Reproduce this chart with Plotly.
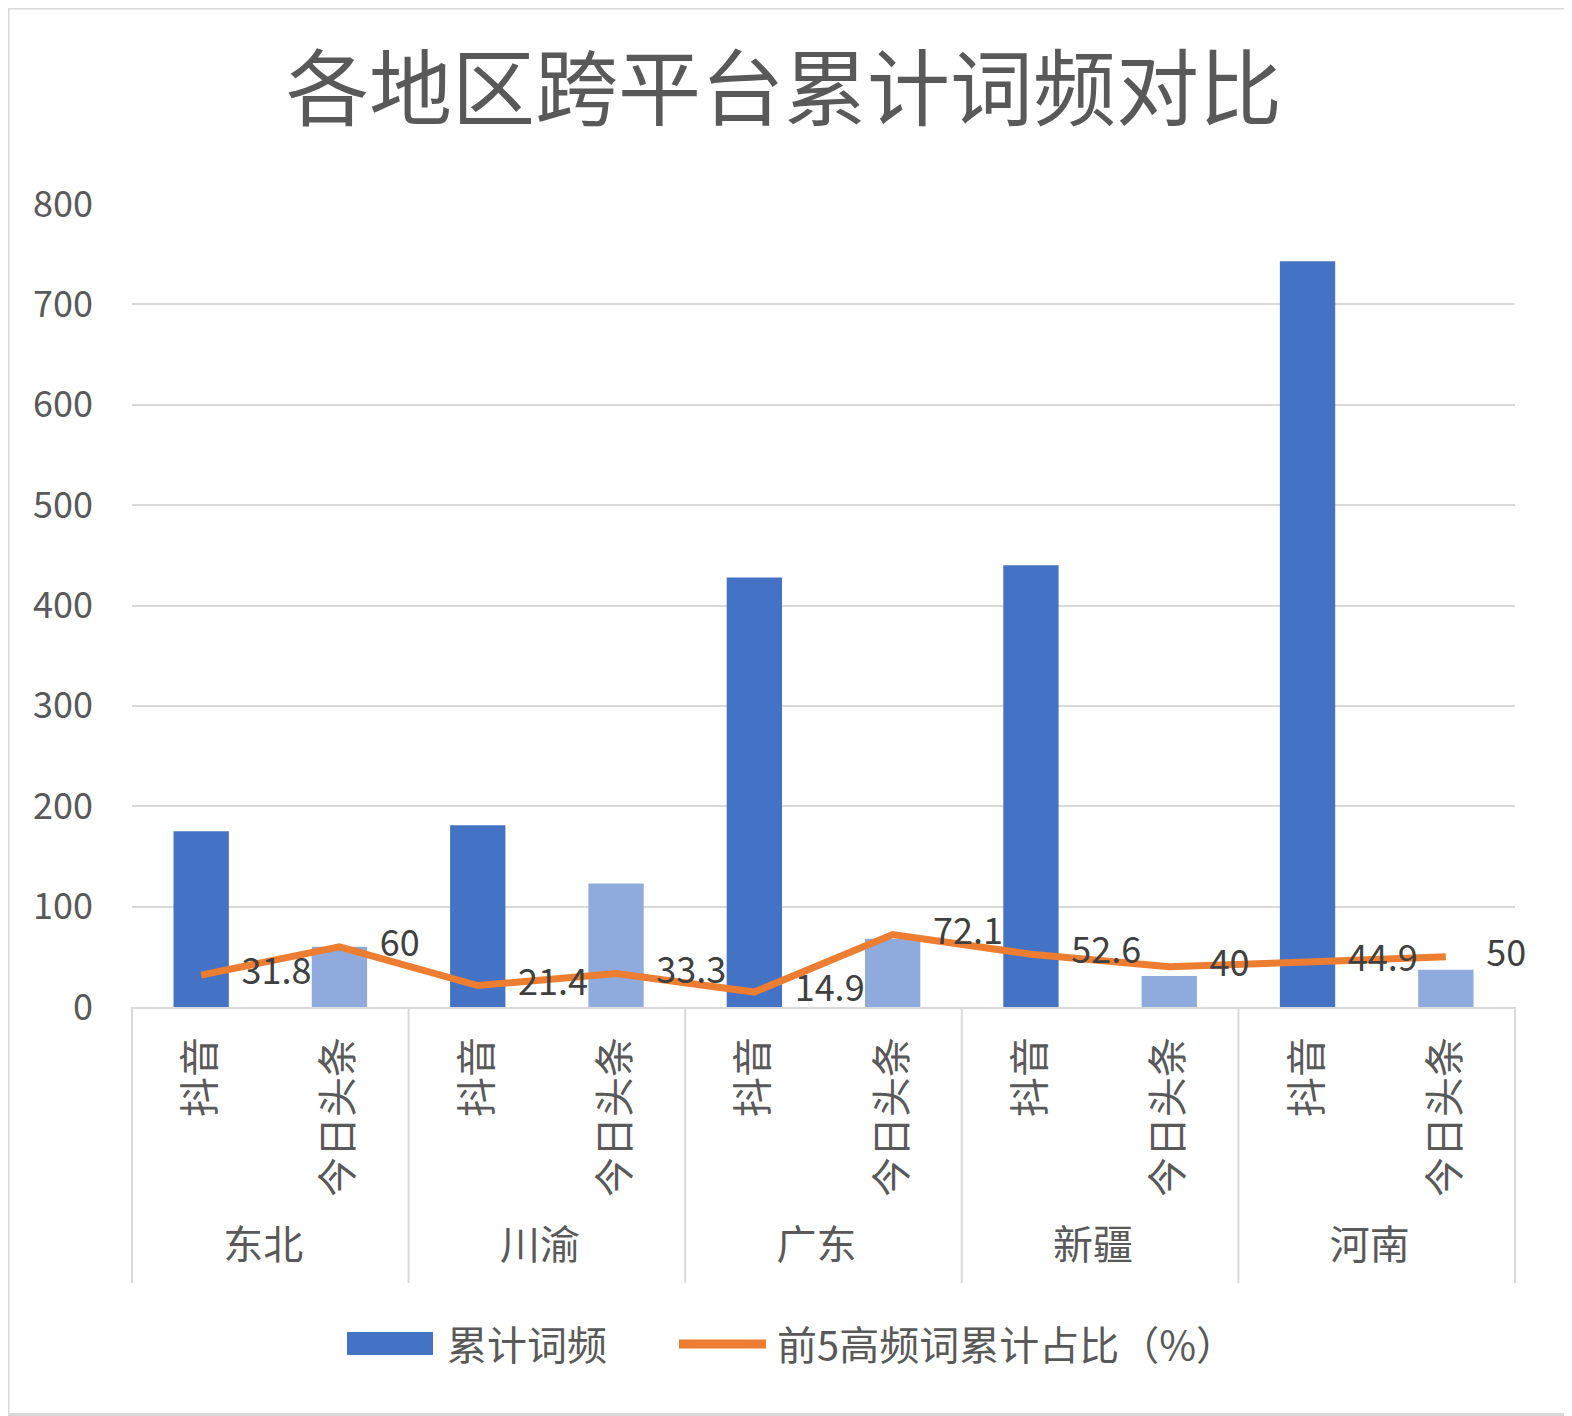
import plotly.graph_objects as go

regions = ["东北", "东北", "川渝", "川渝", "广东", "广东", "新疆", "新疆", "河南", "河南"]
platforms = ["抖音", "今日头条"] * 5
word_freq = [175, 60, 181, 123, 428, 68, 440, 31, 743, 37]
top5_share = [31.8, 60, 21.4, 33.3, 14.9, 72.1, 52.6, 40, 44.9, 50]

font_cn = "Noto Sans CJK SC, Microsoft YaHei, sans-serif"
bar_colors = ["#4472C4", "#8FAADC"] * 5
grey = "#D9D9D9"

# page has an 8px body margin, so the figure is drawn 8px smaller
W, H = 1564, 1408
L, R, T, B = 124, 57, 195, 409
pw, ph = W - L - R, H - T - B


def px(X):
    # screen x -> paper x
    return (X - 8 - L) / pw


def py(Y):
    # screen y -> paper y
    return (H - B - (Y - 8)) / ph


fig = go.Figure()

# bars: 累计词频
fig.add_trace(go.Bar(
    x=[regions, platforms], y=word_freq,
    name="累计词频",
    marker=dict(color=bar_colors, line=dict(width=0)),
    width=0.4,
    showlegend=False,
))

# line: 前5高频词累计占比
fig.add_trace(go.Scatter(
    x=[regions, platforms], y=top5_share,
    name="前5高频词累计占比（%）",
    mode="lines+text",
    line=dict(color="#ED7D31", width=7),
    text=["\u00a0" * 5 + str(v) for v in top5_share],
    textposition="middle right",
    textfont=dict(size=36, color="#404040", family=font_cn),
    cliponaxis=False,
    showlegend=False,
))

fig.update_layout(
    title=dict(text="各地区跨平台累计词频对比", xref="container", x=776 / W, xanchor="center",
               yref="container", y=1 - 82 / H, yanchor="middle",
               font=dict(size=83, color="#595959", family=font_cn)),
    width=W, height=H,
    margin=dict(l=L, r=R, t=T, b=B),
    paper_bgcolor="white", plot_bgcolor="white",
    font=dict(family=font_cn, color="#595959"),
    showlegend=False,
)

fig.update_yaxes(range=[0, 801], dtick=100, showgrid=True, gridcolor=grey, gridwidth=2,
                 zeroline=False, showline=False, ticks="", ticklabelstandoff=38,
                 tickfont=dict(size=36, color="#595959"))
fig.update_xaxes(type="multicategory", tickangle=-90, showline=True, linecolor=grey, linewidth=2,
                 showdividers=False, tickfont=dict(size=40, color="#595959"), ticks="",
                 ticklabelstandoff=12)

# group dividers under the axis
for i in range(6):
    fig.add_shape(type="line", xref="paper", yref="paper", x0=i / 5, x1=i / 5,
                  y0=0, y1=py(1283), line=dict(color=grey, width=2))

# legend drawn by hand (wide swatches)
fig.add_shape(type="rect", xref="paper", yref="paper", x0=px(347), x1=px(433),
              y0=py(1355), y1=py(1332), fillcolor="#4472C4", line=dict(width=0))
fig.add_shape(type="line", xref="paper", yref="paper", x0=px(679), x1=px(766),
              y0=py(1344), y1=py(1344), line=dict(color="#ED7D31", width=9))
fig.add_annotation(xref="paper", yref="paper", x=px(445), y=py(1343), xanchor="left",
                   yanchor="middle", text="累计词频", showarrow=False,
                   font=dict(size=40, color="#595959", family=font_cn))
fig.add_annotation(xref="paper", yref="paper", x=px(775), y=py(1343), xanchor="left",
                   yanchor="middle", text="前5高频词累计占比（%）", showarrow=False,
                   font=dict(size=40, color="#595959", family=font_cn))

# chart border
fig.add_shape(type="rect", xref="paper", yref="paper", x0=-L / pw, x1=1 + R / pw - 0.002,
              y0=-B / ph + 0.002, y1=1 + T / ph, line=dict(color=grey, width=3))

fig.write_html("out.html")
